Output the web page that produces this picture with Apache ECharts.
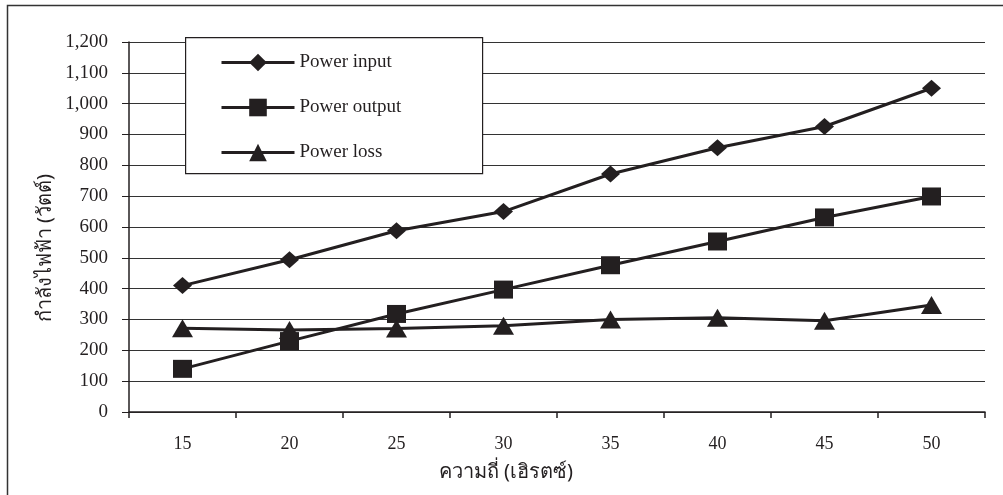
<!DOCTYPE html>
<html>
<head>
<meta charset="utf-8">
<script src="https://cdn.jsdelivr.net/npm/echarts@6/dist/echarts.min.js"></script>
<style>
  html, body { margin: 0; padding: 0; background: #fff; }
  #chart { width: 1003px; height: 495px; }
</style>
</head>
<body>
<div id="chart"></div>
<script>
// data
const frequencies = ['15', '20', '25', '30', '35', '40', '45', '50'];
const powerInput = [410, 494, 588, 650, 772, 857, 926, 1050];
const powerOutput = [140, 230, 318, 397, 476, 553, 631, 699];
const powerLoss = [272, 266, 271, 280, 300, 306, 296, 347];
const yTicks = [0, 100, 200, 300, 400, 500, 600, 700, 800, 900, 1000, 1100, 1200];

const INK = '#231f20';
const SERIF = '"Liberation Serif", "DejaVu Serif", serif';
const SANS = '"Noto Sans", "DejaVu Sans", sans-serif';

const chart = echarts.init(document.getElementById('chart'));

function lineSeries(name, data, symbol, size) {
  return {
    name: name,
    type: 'line',
    data: data,
    symbol: symbol,
    symbolSize: size,
    showAllSymbol: true,
    itemStyle: { color: INK },
    lineStyle: { color: INK, width: 3 },
    z: 5,
  };
}

chart.setOption({
  animation: false,
  backgroundColor: '#fff',
  grid: { left: 129, right: 18, top: 42, bottom: 83 },
  xAxis: {
    type: 'category',
    data: frequencies,
    boundaryGap: true,
    axisLine: { lineStyle: { color: INK, width: 1.5 } },
    axisTick: { show: true, length: 6, lineStyle: { color: INK, width: 1.5 } },
    axisLabel: { color: INK, fontFamily: SERIF, fontSize: 18, margin: 23 },
    splitLine: { show: false },
  },
  yAxis: {
    type: 'value',
    min: yTicks[0],
    max: yTicks[yTicks.length - 1],
    interval: 100,
    axisLine: { show: true, lineStyle: { color: INK, width: 1.5 } },
    axisTick: { show: true, length: 7, lineStyle: { color: INK, width: 1 } },
    axisLabel: {
      color: INK, fontFamily: SERIF, fontSize: 19, margin: 21,
      formatter: v => v.toLocaleString('en-US'),
    },
    splitLine: { show: true, lineStyle: { color: '#333', width: 1 } },
  },
  legend: {
    orient: 'vertical',
    left: 215,
    top: 48,
    itemWidth: 73,
    itemHeight: 22,
    itemGap: 26,
    lineStyle: { width: 3 },
    textStyle: { color: INK, fontFamily: SERIF, fontSize: 19 },
    z: 10,
  },
  graphic: [
    {
      type: 'rect',
      left: 5, top: 3,
      shape: { width: 1100, height: 600 },
      style: { fill: 'none', stroke: '#333', lineWidth: 1.5 },
      z: 1,
    },
    {
      type: 'rect',
      left: 185, top: 37,
      shape: { width: 297, height: 136 },
      style: { fill: '#fff', stroke: INK, lineWidth: 1.2 },
      z: 8,
    },
    {
      type: 'text',
      x: 45, y: 248,
      rotation: Math.PI / 2,
      style: {
        text: 'กำลังไฟฟ้า (วัตต์)',
        fill: INK, fontSize: 20, fontFamily: SANS,
        align: 'center', verticalAlign: 'middle',
      },
      z: 10,
    },
    {
      type: 'text',
      x: 506, y: 472,
      style: {
        text: 'ความถี่ (เฮิรตซ์)',
        fill: INK, fontSize: 20, fontFamily: SANS,
        align: 'center', verticalAlign: 'middle',
      },
      z: 10,
    },
  ],
  series: [
    lineSeries('Power input', powerInput, 'diamond', [19, 17]),
    lineSeries('Power output', powerOutput, 'rect', [19, 18]),
    lineSeries('Power loss', powerLoss, 'triangle', [21, 18]),
  ],
});
</script>
</body>
</html>
